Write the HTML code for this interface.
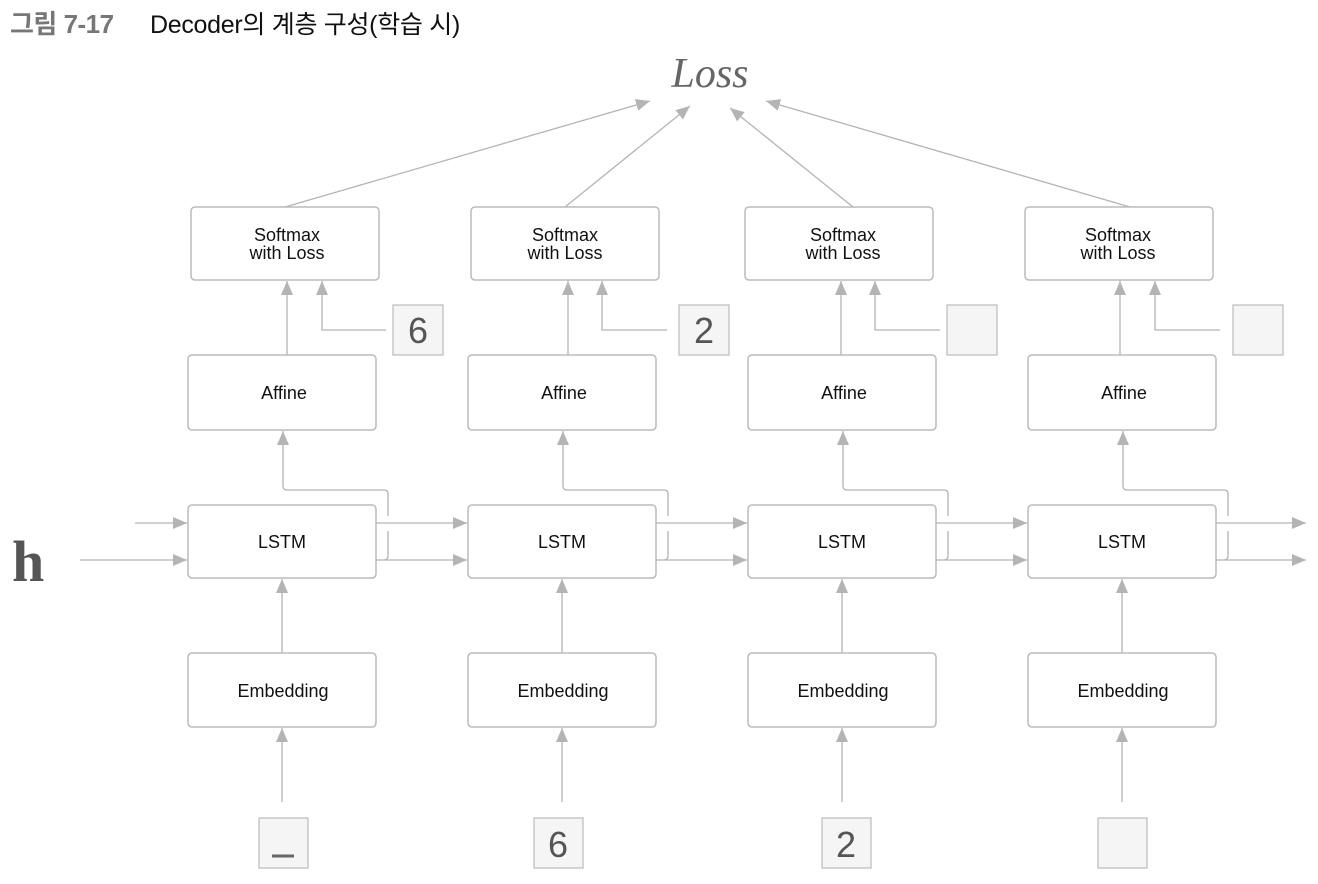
<!DOCTYPE html>
<html><head><meta charset="utf-8"><style>
html,body{margin:0;padding:0;background:#fff;}
svg{display:block;}
.b{fill:#fff;stroke:#bbb;stroke-width:1.5;}
.l{stroke:#b4b4b4;stroke-width:1.3;fill:none;}
.t{font-family:"Liberation Sans",sans-serif;font-size:18px;fill:#111;text-anchor:middle;}
.sq{fill:#f4f5f4;stroke:#bbb;stroke-width:1.2;}
.n{font-family:"Liberation Sans",sans-serif;font-size:36px;fill:#555;text-anchor:middle;}
</style></head><body>
<svg width="1318" height="884" viewBox="0 0 1318 884" xmlns="http://www.w3.org/2000/svg">
<defs><marker id="a" viewBox="0 0 14 12" refX="14" refY="6" markerWidth="14" markerHeight="12" markerUnits="userSpaceOnUse" orient="auto"><path d="M0,0 L14,6 L0,12 z" fill="#b4b4b4"/></marker></defs>
<text x="10" y="33" font-family="Liberation Sans,'Noto Sans CJK KR',sans-serif" font-size="26" font-weight="bold" fill="#777" letter-spacing="-0.5">그림 7-17</text>
<text x="150" y="33" font-family="Liberation Sans,'Noto Sans CJK KR',sans-serif" font-size="25" fill="#111" letter-spacing="-0.3">Decoder의 계층 구성(학습 시)</text>
<text x="710" y="87" font-family="Liberation Serif,serif" font-style="italic" font-size="42" fill="#666" text-anchor="middle">Loss</text>
<text x="12" y="581" font-family="Liberation Serif,serif" font-weight="bold" font-size="58" fill="#555">h</text>
<line class="l" x1="285" y1="207" x2="650" y2="101" marker-end="url(#a)"/>
<line class="l" x1="565" y1="207" x2="690" y2="106" marker-end="url(#a)"/>
<line class="l" x1="853" y1="207" x2="730" y2="108" marker-end="url(#a)"/>
<line class="l" x1="1130" y1="207" x2="766" y2="101" marker-end="url(#a)"/>
<rect class="b" x="191" y="207" width="188" height="73" rx="4"/>
<rect class="b" x="471" y="207" width="188" height="73" rx="4"/>
<rect class="b" x="745" y="207" width="188" height="73" rx="4"/>
<rect class="b" x="1025" y="207" width="188" height="73" rx="4"/>
<g class="t">
<text x="287" y="241">Softmax</text><text x="287" y="259">with Loss</text>
<text x="565" y="241">Softmax</text><text x="565" y="259">with Loss</text>
<text x="843" y="241">Softmax</text><text x="843" y="259">with Loss</text>
<text x="1118" y="241">Softmax</text><text x="1118" y="259">with Loss</text>
</g>
<line class="l" x1="287" y1="355" x2="287" y2="281" marker-end="url(#a)"/>
<line class="l" x1="568" y1="355" x2="568" y2="281" marker-end="url(#a)"/>
<line class="l" x1="841" y1="355" x2="841" y2="281" marker-end="url(#a)"/>
<line class="l" x1="1120" y1="355" x2="1120" y2="281" marker-end="url(#a)"/>
<polyline class="l" points="386,330 322,330 322,281" marker-end="url(#a)"/>
<polyline class="l" points="667,330 602,330 602,281" marker-end="url(#a)"/>
<polyline class="l" points="940,330 875,330 875,281" marker-end="url(#a)"/>
<polyline class="l" points="1220,330 1155,330 1155,281" marker-end="url(#a)"/>
<rect class="sq" x="393" y="305" width="50" height="50"/><text class="n" x="418" y="343">6</text>
<rect class="sq" x="679" y="305" width="50" height="50"/><text class="n" x="704" y="343">2</text>
<rect class="sq" x="947" y="305" width="50" height="50"/>
<rect class="sq" x="1233" y="305" width="50" height="50"/>
<g id="c">
<rect class="b" x="188" y="355" width="188" height="75" rx="4"/>
<rect class="b" x="188" y="505" width="188" height="73" rx="4"/>
<rect class="b" x="188" y="653" width="188" height="74" rx="4"/>
<text class="t" x="284" y="399">Affine</text>
<text class="t" x="282" y="548">LSTM</text>
<text class="t" x="283" y="697">Embedding</text>
<line class="l" x1="282" y1="653" x2="282" y2="579" marker-end="url(#a)"/>
<line class="l" x1="282" y1="802" x2="282" y2="728" marker-end="url(#a)"/>
<path class="l" d="M388,516 L388,494 Q388,490 384,490 L287,490 Q283,490 283,486 L283,431" marker-end="url(#a)"/>
<path class="l" d="M388,531 L388,556 Q388,560 384,560"/>
<line class="l" x1="376" y1="523" x2="467" y2="523" marker-end="url(#a)"/>
<line class="l" x1="376" y1="560" x2="467" y2="560" marker-end="url(#a)"/>
</g>
<use href="#c" x="280"/>
<use href="#c" x="560"/>
<g transform="translate(840,0)">
<rect class="b" x="188" y="355" width="188" height="75" rx="4"/>
<rect class="b" x="188" y="505" width="188" height="73" rx="4"/>
<rect class="b" x="188" y="653" width="188" height="74" rx="4"/>
<text class="t" x="284" y="399">Affine</text>
<text class="t" x="282" y="548">LSTM</text>
<text class="t" x="283" y="697">Embedding</text>
<line class="l" x1="282" y1="653" x2="282" y2="579" marker-end="url(#a)"/>
<line class="l" x1="282" y1="802" x2="282" y2="728" marker-end="url(#a)"/>
<path class="l" d="M388,516 L388,494 Q388,490 384,490 L287,490 Q283,490 283,486 L283,431" marker-end="url(#a)"/>
<path class="l" d="M388,531 L388,556 Q388,560 384,560"/>
<line class="l" x1="376" y1="523" x2="466" y2="523" marker-end="url(#a)"/>
<line class="l" x1="376" y1="560" x2="466" y2="560" marker-end="url(#a)"/>
</g>
<line class="l" x1="135" y1="523" x2="187" y2="523" marker-end="url(#a)"/>
<line class="l" x1="80" y1="560" x2="187" y2="560" marker-end="url(#a)"/>
<rect class="sq" x="259" y="818" width="49" height="50"/><line x1="272" y1="856" x2="294" y2="856" stroke="#666" stroke-width="3"/>
<rect class="sq" x="534" y="818" width="49" height="50"/><text class="n" x="558" y="857">6</text>
<rect class="sq" x="822" y="818" width="49" height="50"/><text class="n" x="846" y="857">2</text>
<rect class="sq" x="1098" y="818" width="49" height="50"/>
</svg>
</body></html>
